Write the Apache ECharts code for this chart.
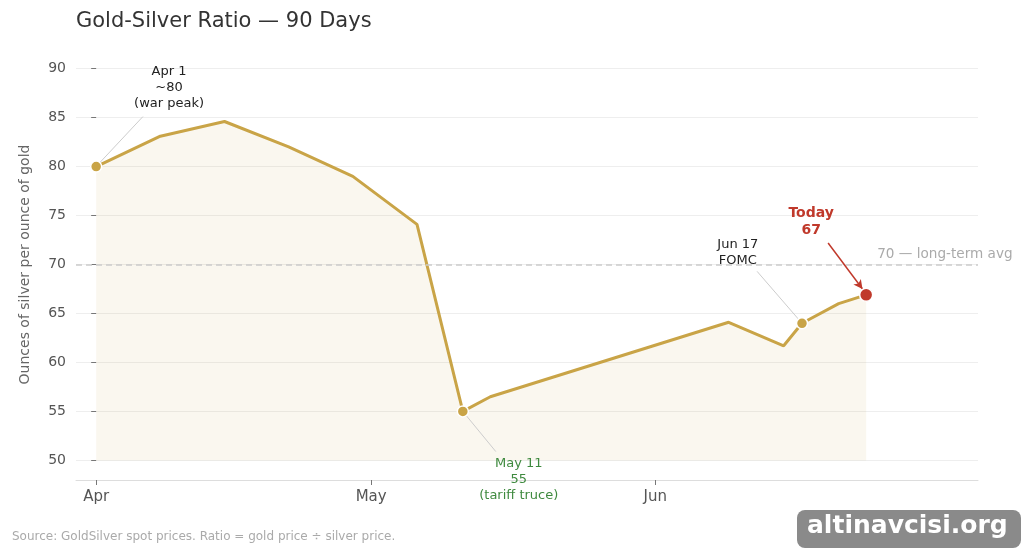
<!DOCTYPE html>
<html>
<head>
<meta charset="utf-8">
<script src="https://cdn.jsdelivr.net/npm/echarts@6/dist/echarts.min.js"></script>
<style>
  html, body { margin: 0; padding: 0; background: #fff; }
  #chart { width: 1024px; height: 556px; }
</style>
</head>
<body>
<div id="chart"></div>
<script>
// ratio readings (day = days since Apr 1)
const days = [0, 7, 14, 21, 28, 35, 40, 43, 69, 75, 77, 81, 84];
const ratio = [80, 83.1, 84.6, 82, 79, 74.1, 55, 56.5, 64.1, 61.7, 64, 66, 66.9];
const monthTicks = [0, 30, 61];
const monthNames = ['Apr', 'May', 'Jun'];
const yTicks = [50, 55, 60, 65, 70, 75, 80, 85, 90];
const longTermAvg = 70;

const gold = '#C9A447';
const red = '#C0392B';
const font = 'DejaVu Sans';

const pts = days.map((d, i) => [d, ratio[i]]);
const last = pts.length - 1;

// marked events: index into data, marker colour
const events = [
  { i: 0, color: gold },
  { i: 6, color: gold },
  { i: 10, color: gold },
  { i: last, color: red, size: 13 }
];

var chart = echarts.init(document.getElementById('chart'));
chart.setOption({
  animation: false,
  textStyle: { fontFamily: font },
  title: {
    text: 'Gold-Silver Ratio — 90 Days',
    left: 71, top: 6,
    textStyle: { fontFamily: font, fontSize: 21, fontWeight: 'normal', color: '#333' }
  },
  grid: { left: 76, right: 46, top: 49, bottom: 76 },
  xAxis: {
    type: 'value',
    min: -2.2, max: 96.2,
    splitLine: { show: false },
    axisLine: { lineStyle: { color: '#ddd', width: 1 } },
    axisTick: { customValues: monthTicks, length: 5, lineStyle: { color: '#777' } },
    axisLabel: {
      customValues: monthTicks,
      color: '#555', fontSize: 15, margin: 10,
      formatter: v => monthNames[monthTicks.indexOf(v)] || ''
    }
  },
  yAxis: {
    type: 'value',
    min: 48, max: 92,
    name: 'Ounces of silver per ounce of gold',
    nameLocation: 'middle',
    nameGap: 44,
    nameTextStyle: { color: '#666', fontSize: 14 },
    axisLine: { show: false },
    axisTick: { show: true, customValues: yTicks, length: 5, lineStyle: { color: '#777' } },
    axisLabel: { customValues: yTicks, color: '#555', fontSize: 14, margin: 10 },
    splitLine: { show: true, lineStyle: { color: '#eee', width: 1 } }
  },
  series: [
    {
      type: 'line',
      data: pts,
      symbol: 'none',
      lineStyle: { color: gold, width: 3 },
      areaStyle: { color: 'rgba(201,164,71,0.12)', origin: 50 },
      z: 3,
      markLine: {
        silent: true,
        symbol: 'none',
        label: { show: false },
        lineStyle: { color: '#ccc', type: [6, 4], width: 1.5 },
        data: [{ yAxis: longTermAvg }]
      },
      markPoint: {
        symbol: 'circle',
        silent: true,
        data: [
          {
            coord: [85.2, 71.0], symbolSize: 0,
            label: { show: true, formatter: '70 — long-term avg', position: 'right', distance: 0,
              color: '#aaa', fontSize: 13.6 }
          },
          {
            coord: [7.95, 88.05], symbolSize: 0,
            label: { show: true, formatter: 'Apr 1\n~80\n(war peak)', position: 'inside',
              color: '#222', fontSize: 13, lineHeight: 16 }
          },
          {
            coord: [46.1, 48.05], symbolSize: 0,
            label: { show: true, formatter: 'May 11\n55\n(tariff truce)', position: 'inside',
              color: '#3f8a3f', fontSize: 13, lineHeight: 16 }
          },
          {
            coord: [70.0, 71.2], symbolSize: 0,
            label: { show: true, formatter: 'Jun 17\nFOMC', position: 'inside',
              color: '#222', fontSize: 13, lineHeight: 16 }
          },
          {
            coord: [78.0, 74.4], symbolSize: 0,
            label: { show: true, formatter: 'Today\n67', position: 'inside',
              color: red, fontSize: 14, fontWeight: 'bold', lineHeight: 17 }
          }
        ]
      }
    },
    {
      // leader lines and arrow
      type: 'line',
      data: [],
      markLine: {
        silent: true,
        symbol: 'none',
        label: { show: false },
        lineStyle: { color: '#ccc', type: 'solid', width: 1 },
        data: [
          [{ coord: [0, 80] }, { coord: [5.1, 85.1] }],
          [{ coord: [40, 55] }, { coord: [43.6, 50.9] }],
          [{ coord: [77, 64] }, { coord: [72.1, 69.3] }],
          [
            { coord: [79.85, 72.2], symbol: 'none' },
            { coord: [83.6, 67.5], symbol: 'arrow', symbolSize: [7, 9],
              lineStyle: { color: red, width: 1.5 } }
          ]
        ]
      },
      z: 2
    },
    {
      type: 'scatter',
      data: events.map(e => ({
        value: pts[e.i],
        symbolSize: e.size || 11,
        itemStyle: { color: e.color, opacity: 1, borderColor: '#fff', borderWidth: 1.5 }
      })),
      z: 5
    }
  ],
  graphic: [
    {
      type: 'text', left: 12, top: 531,
      style: { text: 'Source: GoldSilver spot prices. Ratio = gold price ÷ silver price.',
        fill: '#aaa', font: '12px "DejaVu Sans"' }
    },
    {
      type: 'rect', left: 797, top: 510,
      shape: { width: 224, height: 38, r: 8 },
      style: { fill: '#8a8a8a' }
    },
    {
      type: 'text', left: 807, top: 514,
      style: { text: 'altinavcisi.org', fill: '#fff', font: 'bold 25px "DejaVu Sans"',
        textShadowColor: '#000', textShadowOffsetX: 1.5, textShadowOffsetY: 1.5, textShadowBlur: 0 }
    }
  ]
});
</script>
</body>
</html>
